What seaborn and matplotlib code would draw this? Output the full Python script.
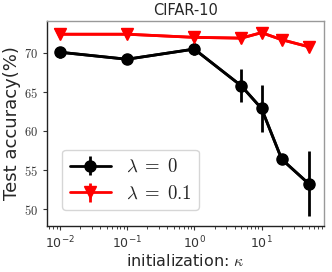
import numpy as np
import pandas as pd
import matplotlib
matplotlib.use("Agg")
import matplotlib.pyplot as plt
import seaborn as sns

kappa = [0.01, 0.1, 1, 5, 10, 20, 50]
acc_l0 = [70.1, 69.2, 70.5, 65.8, 62.9, 56.4, 53.3]
err_l0 = [0.7, 0.2, 0.8, 2.1, 3.0, 0.6, 4.1]
acc_l01 = [72.4, 72.4, 72.0, 71.9, 72.6, 71.7, 70.8]
err_l01 = [0.1, 0.1, 0.1, 0.1, 0.1, 0.1, 0.1]
labels = [r"$\lambda\;=\;0$", r"$\lambda\;=\;0.1$"]
yticks = [50, 55, 60, 65, 70]

sns.set_style("white")
plt.rcParams["mathtext.fontset"] = "cm"
plt.rcParams["font.family"] = ["DejaVu Sans"]

fig = plt.figure(figsize=(3.32, 2.72), dpi=100)
ax = fig.add_axes([0.142, 0.17, 0.834, 0.753])

df = pd.DataFrame({"kappa": kappa * 2,
                   "acc": acc_l0 + acc_l01,
                   "series": [labels[0]] * 7 + [labels[1]] * 7})
sns.lineplot(data=df, x="kappa", y="acc", hue="series", style="series",
             palette={labels[0]: "black", labels[1]: "red"},
             markers={labels[0]: "o", labels[1]: "v"}, dashes=False,
             markersize=8, linewidth=2, markeredgewidth=0, legend=False, ax=ax)
ax.errorbar(kappa, acc_l0, yerr=err_l0, fmt="-o", color="black", lw=2,
            elinewidth=2, markersize=8, label=labels[0])
ax.errorbar(kappa, acc_l01, yerr=err_l01, fmt="-v", color="red", lw=2,
            elinewidth=2, markersize=8, label=labels[1])

ax.set_xscale("log")
ax.set_xlim(0.0065, 85)
ax.set_ylim(47.9, 74.1)
ax.set_yticks(yticks)
ax.set_yticklabels([rf"${t}$" for t in yticks])
ax.tick_params(axis="both", labelsize=9, length=3, color="#333333", direction="out")
ax.tick_params(axis="x", which="minor", length=2)
for lab in ax.get_xticklabels() + ax.get_yticklabels():
    lab.set_color("#333333")
ax.xaxis.set_ticks_position("bottom")
ax.yaxis.set_ticks_position("left")
for s in ["left", "bottom"]:
    ax.spines[s].set_color("#222222")
    ax.spines[s].set_linewidth(1.0)
for s in ["top", "right"]:
    ax.spines[s].set_color("#999999")
    ax.spines[s].set_linewidth(1.0)

ax.set_title("CIFAR-10", fontsize=10.5, pad=4)
ax.set_xlabel(r"initialization: $\kappa$", fontsize=11.5, labelpad=1)
ax.set_ylabel("Test accuracy(%)", fontsize=13, labelpad=2)
ax.legend(loc="lower left", fontsize=13.5, bbox_to_anchor=(0.02, 0.03),
          handlelength=2.2, borderpad=0.4, labelspacing=0.4, frameon=True)

fig.savefig("out.png", dpi=100)
